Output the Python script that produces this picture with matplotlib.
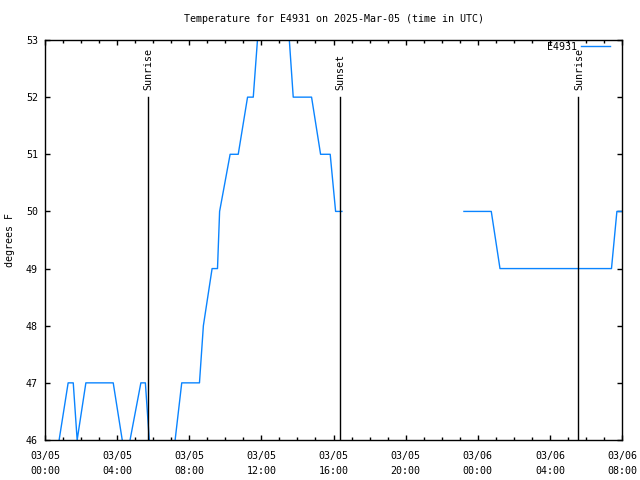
import matplotlib
matplotlib.use("Agg")
import matplotlib.pyplot as plt
import matplotlib.dates as mdates
import numpy as np
import pandas as pd

# ---- data ----
times = [
    "2025-03-05 00:00", "2025-03-05 00:27", "2025-03-05 00:47", "2025-03-05 01:17",
    "2025-03-05 01:34", "2025-03-05 01:47", "2025-03-05 02:16", "2025-03-05 03:47",
    "2025-03-05 04:17", "2025-03-05 04:30", "2025-03-05 04:43", "2025-03-05 05:19",
    "2025-03-05 05:34", "2025-03-05 05:47", "2025-03-05 06:06", "2025-03-05 06:51",
    "2025-03-05 07:13", "2025-03-05 07:35", "2025-03-05 08:34", "2025-03-05 08:47",
    "2025-03-05 09:16", "2025-03-05 09:34", "2025-03-05 09:41", "2025-03-05 10:16",
    "2025-03-05 10:43", "2025-03-05 11:14", "2025-03-05 11:33", "2025-03-05 11:47",
    "2025-03-05 12:00", "2025-03-05 13:18", "2025-03-05 13:33", "2025-03-05 13:46",
    "2025-03-05 14:47", "2025-03-05 15:17", "2025-03-05 15:49", "2025-03-05 16:07",
    "2025-03-05 16:28", "2025-03-05 20:00", "2025-03-05 23:14", "2025-03-06 00:45",
    "2025-03-06 01:14", "2025-03-06 07:25", "2025-03-06 07:43", "2025-03-06 08:00",
]
temps = [
    45, 45, 46, 47,
    47, 46, 47, 47,
    46, 45, 46, 47,
    47, 46, 45, 45,
    46, 47, 47, 48,
    49, 49, 50, 51,
    51, 52, 52, 53,
    54, 54, 53, 52,
    52, 51, 51, 50,
    50, np.nan, 50, 50,
    49, 49, 50, 50,
]
events = ["Sunrise", "Sunset", "Sunrise"]
event_times = ["2025-03-05 05:42", "2025-03-05 16:20", "2025-03-06 05:35"]
event_top = 52

series_name = "E4931"
title = "Temperature for E4931 on 2025-Mar-05 (time in UTC)"
ylabel = "degrees F"
x_start, x_end = "2025-03-05 00:00", "2025-03-06 08:00"
y_min, y_max = 46, 53

# ---- plot ----
plt.rcParams['font.family'] = ['DejaVu Sans Mono']
plt.rcParams['font.size'] = 7.2

fig = plt.figure(figsize=(6.4, 4.8), dpi=100)
ax = fig.add_axes([45/640, 1-440/480, (622-45)/640, (440-40)/480])

t = pd.to_datetime(times)
ax.plot(t, temps, color='#0a84ff', lw=1.0, label=series_name)

for name, et in zip(events, event_times):
    tt = pd.Timestamp(et)
    ax.plot([tt, tt], [y_min, event_top], color='black', lw=1.0)
    ax.annotate(name, xy=(tt, event_top), xytext=(0.5, 5), textcoords='offset points',
                rotation=90, ha='center', va='bottom')

ax.set_xlim(pd.Timestamp(x_start), pd.Timestamp(x_end))
ax.set_ylim(y_min, y_max)
ax.xaxis.set_major_locator(mdates.HourLocator(byhour=range(0, 24, 4)))
ax.xaxis.set_minor_locator(mdates.HourLocator())
ax.xaxis.set_major_formatter(mdates.DateFormatter("%m/%d\n%H:%M"))
ax.set_yticks(range(y_min, y_max + 1))

ax.tick_params(which='both', direction='in', top=True, right=True, width=1.0, color='black')
ax.tick_params(which='major', length=3.3)
ax.tick_params(which='minor', length=2.0)
ax.tick_params(axis='x', pad=8)
ax.tick_params(axis='y', pad=5)
for lbl in ax.get_xticklabels():
    lbl.set_linespacing(1.6)
for s in ax.spines.values():
    s.set_linewidth(1.0)

ax.set_ylabel(ylabel, va='center')
ax.yaxis.set_label_coords(-35/577, 0.5)
fig.text((45+622)/2/640, 1-19/480, title, ha='center', va='center')

ax.legend(loc='upper right', bbox_to_anchor=(1-12/577, 1-2/400), frameon=False,
          markerfirst=False, handlelength=2.9, borderaxespad=0, borderpad=0,
          handletextpad=0.4)

fig.savefig("out.png", dpi=100)
